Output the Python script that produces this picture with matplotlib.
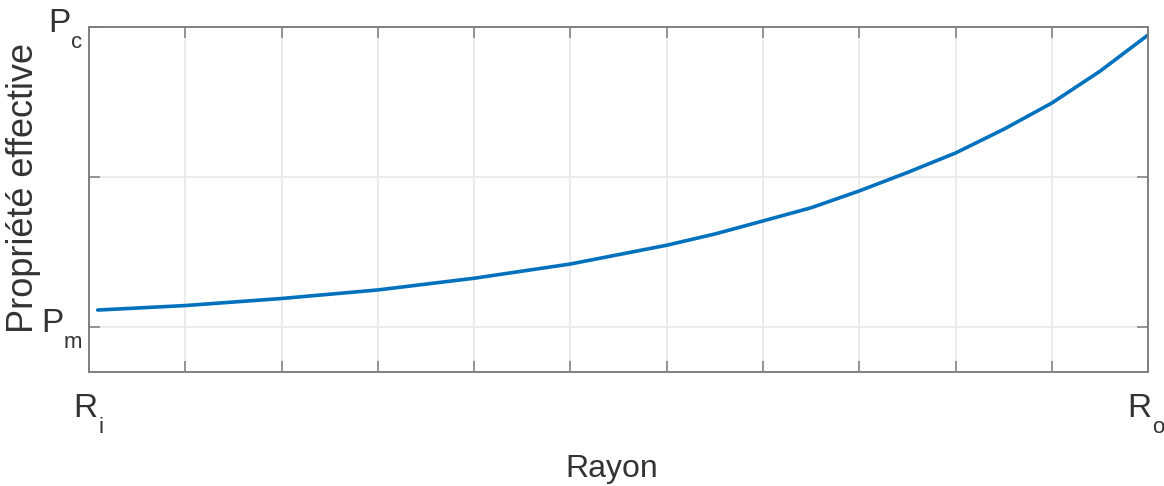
import matplotlib.pyplot as plt

narrow = ['Liberation Sans Narrow', 'Liberation Sans', 'DejaVu Sans']
plt.rcParams['font.family'] = ['Liberation Sans', 'DejaVu Sans']

# valeurs (rayon normalise 0..11 entre Ri et Ro, propriete 0=Pm, 2=Pc)
rayon = [0.09, 1, 2, 3, 4, 5, 6, 6.5, 7, 7.5, 8, 8.5, 9, 9.5, 10, 10.5, 11]
propriete = [0.113, 0.143, 0.19, 0.247, 0.325, 0.42, 0.545, 0.62, 0.707, 0.795,
             0.907, 1.03, 1.16, 1.318, 1.493, 1.705, 1.947]

x_ticks = list(range(12))
y_ticks = [0, 1, 2]
# (texte, indice) pour les extremites des axes
x_labels = [('R', 'i'), ('R', 'o')]
y_labels = [('P', 'm'), ('P', 'c')]

fig = plt.figure(figsize=(11.64, 4.86), dpi=100)
ax = fig.add_axes([0.0765, 0.2346, 0.9098, 0.7098])

ax.plot(rayon, propriete, color='#0072BD', lw=2.6, solid_capstyle='round',
        solid_joinstyle='round')

ax.set_xlim(0, 11)
ax.set_ylim(-0.3, 2)
ax.set_xticks(x_ticks)
ax.set_xticklabels([])
ax.set_yticks(y_ticks)
ax.set_yticklabels([])

ax.grid(True, color='#e8e8e8', lw=1.2)
ax.set_axisbelow(True)
for s in ax.spines.values():
    s.set_color('#808080')
    s.set_linewidth(1.4)
ax.tick_params(direction='in', length=8, width=1.3, color='#8c8c8c',
               top=True, right=True)

px = 0.72  # pixels -> points a 100 dpi
txt = '#333333'

# etiquettes des extremites, avec indice bien descendu comme sur l'original
ytr = ax.get_yaxis_transform()
for (main, sub), yv, jx in zip(y_labels, [y_ticks[0], y_ticks[-1]], [-26, -19]):
    ax.annotate(main, xy=(0, yv), xycoords=ytr, xytext=(jx * px, -5 * px),
                textcoords='offset points', ha='right', va='baseline',
                fontsize=24, family=narrow, color=txt)
    ax.annotate(sub, xy=(0, yv), xycoords=ytr, xytext=((jx + 1) * px, -21 * px),
                textcoords='offset points', ha='left', va='baseline',
                fontsize=16, family=narrow, color=txt)

xtr = ax.get_xaxis_transform()
for (main, sub), xv, jx in zip(x_labels, [x_ticks[0], x_ticks[-1]], [8, 3]):
    ax.annotate(main, xy=(xv, 0), xycoords=xtr, xytext=(jx * px, -45 * px),
                textcoords='offset points', ha='right', va='baseline',
                fontsize=24, family=narrow, color=txt)
    ax.annotate(sub, xy=(xv, 0), xycoords=xtr, xytext=((jx + 1) * px, -61 * px),
                textcoords='offset points', ha='left', va='baseline',
                fontsize=16, family=narrow, color=txt)

fig.text(612 / 1164, 1 - 477 / 486, 'Rayon', ha='center', va='baseline',
         fontsize=23, family=narrow, color=txt)
fig.text(24 / 1164, 1 - 188 / 486, 'Propriété effective', rotation=90,
         ha='center', va='center', fontsize=26, color=txt)

fig.savefig('out.png', dpi=100)
